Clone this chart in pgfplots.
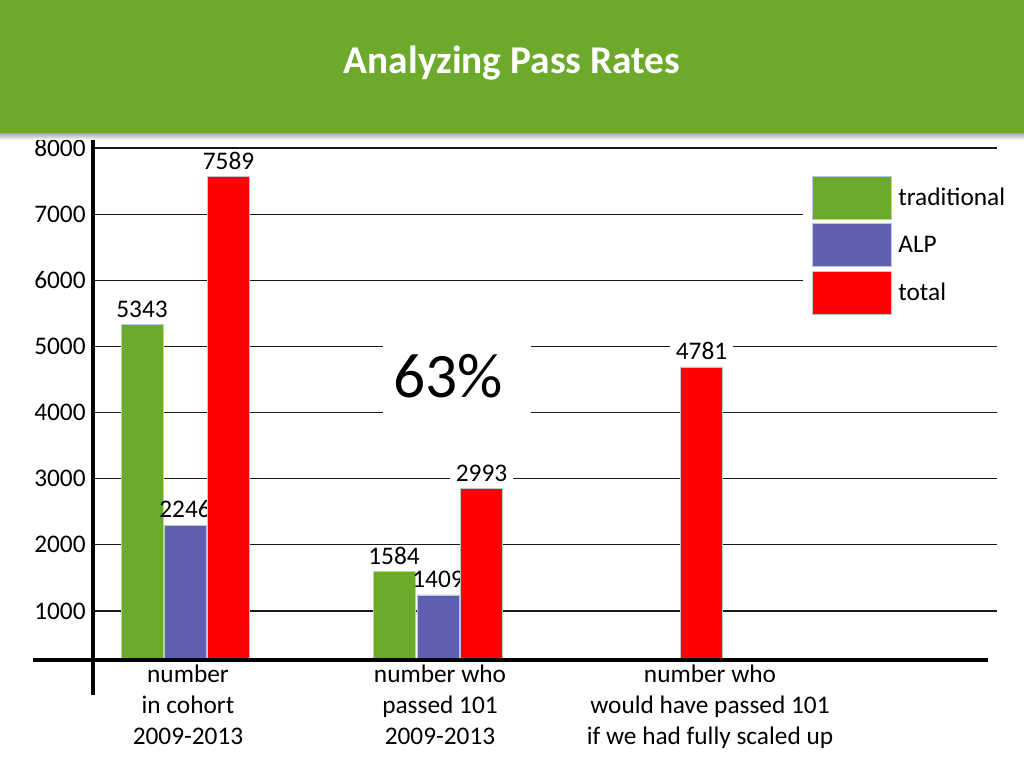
\documentclass[border=0pt]{standalone}
\usepackage{fontspec}
\setmainfont{Carlito}
\usepackage{pgfplots}
\pgfplotsset{compat=1.18}
\definecolor{hdr}{RGB}{109,170,43}
\definecolor{bargreen}{RGB}{108,170,42}
\definecolor{alpblue}{RGB}{96,94,174}
\definecolor{barred}{RGB}{255,0,0}
\definecolor{barborder}{RGB}{185,200,220}
\begin{document}
\begin{tikzpicture}
\path (0,0) rectangle (768pt,576pt);
\shade[top color=black!35, bottom color=white] (0,471pt) rectangle (768pt,476.25pt);
\fill[hdr] (0,476.25pt) rectangle (768pt,576pt);
\node[text=white,font=\fontsize{29.5}{34}\selectfont\bfseries] at (384pt,528.75pt) {Analyzing Pass Rates};
\begin{axis}[
  set layers,
  at={(69.75pt,81pt)}, anchor=south west,
  scale only axis, width=678pt, height=384pt,
  xmin=93, xmax=997, ymin=259, ymax=8000,
  axis lines=left, axis line style={draw=none},
  clip=false,
  ytick={1000,2000,3000,4000,5000,6000,7000,8000},
  scaled y ticks=false,
  /pgf/number format/1000 sep={},
  /pgf/number format/assume math mode=true,
  ymajorgrids, grid style={black!90, line width=0.9pt},
  major tick length=0pt,
  xtick={188,440,710},
  xticklabels={number\\in cohort\\2009-2013, number who\\passed 101\\2009-2013, number who\\would have passed 101\\if we had fully scaled up},
  xticklabel style={align=center, font=\fontsize{19}{23.25}\selectfont},
  yticklabel style={font=\fontsize{19}{22}\selectfont, xshift=-2pt},
  ybar, bar shift=0pt, bar width=42,
  point meta=explicit symbolic,
  nodes near coords,
  nodes near coords style={font=\fontsize{19}{22}\selectfont, fill=white, inner xsep=4.5pt, inner ysep=1pt, anchor=south, yshift=4pt},
  legend image code/.code={\draw[#1, draw=barborder, line width=0.6pt] (0pt,-16pt) rectangle (59pt,16pt);},
  legend style={at={(0.785,0.951)}, anchor=north west, draw=none, fill=white, inner xsep=7pt, inner ysep=2pt, row sep=3pt, font=\fontsize{19}{22}\selectfont,
    /tikz/every odd column/.style={column sep=3pt}},
  legend cell align=left,
]
\addplot[fill=bargreen, draw=barborder, line width=0.6pt] coordinates {(142,5334) [5343] (394,1594) [1584]};
\addplot[fill=alpblue, draw=barborder, line width=0.6pt, every node near coord/.append style={fill=none}] coordinates {(185,2300) [2246] (438,1242) [1409]};
\addplot[fill=barred, draw=barborder, line width=0.6pt, on layer=axis foreground] coordinates {(228.5,7567) [7589] (481.5,2855) [2993] (701.5,4690) [4781]};
\legend{traditional, ALP, total}
\fill[white] (axis cs:383,3812) rectangle (axis cs:531,5173);
\node[font=\fontsize{47.5}{52}\selectfont, inner sep=0pt] at (axis cs:448,4553) {63\%};
\begin{pgfonlayer}{axis foreground}
\draw[line width=3pt] (axis cs:33,259) -- (axis cs:988,259);
\draw[line width=3pt] (axis cs:93,8121) -- (axis cs:93,-270);
\end{pgfonlayer}
\end{axis}
\end{tikzpicture}
\end{document}
